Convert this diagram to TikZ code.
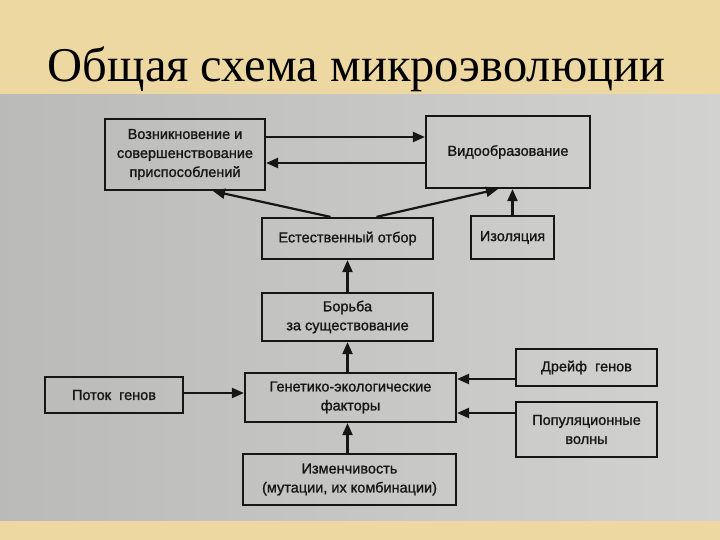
\documentclass[tikz,border=0pt]{standalone}
\usepackage{fontspec}
\setmainfont{Liberation Serif}
\newfontfamily\boxfont[FakeBold=1.2]{Liberation Sans}
\usetikzlibrary{arrows.meta,calc}
\definecolor{beige}{RGB}{236,216,160}
\definecolor{grayL}{RGB}{186,186,184}
\definecolor{grayR}{RGB}{210,210,208}
\definecolor{ink}{RGB}{22,22,22}
\tikzset{
  blk/.style={draw=ink, line width=2.2pt, rectangle, inner sep=0pt, align=center,
    font=\boxfont\fontsize{14.5}{19}\selectfont, text=ink},
  arr/.style={draw=ink, line width=2.2pt, -{Triangle[length=12pt,width=10pt]}}
}
\begin{document}
\begin{tikzpicture}[x=1pt,y=-1pt]
\useasboundingbox (0,0) rectangle (720,540);
\fill[beige] (0,0) rectangle (720,540);
\shade[left color=grayL, right color=grayR] (0,95) rectangle (720,520);
\node[anchor=base, inner sep=0pt] (title) at (356.5,82) {\fontsize{48.5}{52}\selectfont Общая схема микроэволюции};

\node[blk, minimum width=160pt, minimum height=71pt] (voz) at (185,154.5) {Возникновение и\\совершенствование\\приспособлений};
\node[blk, minimum width=164pt, minimum height=72pt] (vid) at (508,152) {Видообразование};
\node[blk, minimum width=171pt, minimum height=41pt] (otb) at (347.5,238.5) {Естественный отбор};
\node[blk, minimum width=83pt, minimum height=43pt] (izo) at (512.5,237.5) {Изоляция};
\node[blk, minimum width=171pt, minimum height=48pt] (bor) at (347.5,317) {Борьба\\за существование};
\node[blk, minimum width=211pt, minimum height=49pt] (gen) at (350.5,397.5) {Генетико-экологические\\факторы};
\node[blk, minimum width=138pt, minimum height=36pt] (pot) at (114,395) {Поток\ \ генов};
\node[blk, minimum width=213pt, minimum height=51pt] (izm) at (349.5,479.5) {Изменчивость\\(мутации, их комбинации)};
\node[blk, minimum width=141pt, minimum height=37pt] (dre) at (586.5,367.5) {Дрейф\ \ генов};
\node[blk, minimum width=141pt, minimum height=55pt] (pop) at (586.5,429.5) {Популяционные\\волны};

\draw[arr] (voz.east |- 0,137) -- (vid.west |- 0,137);
\draw[arr] (vid.west |- 0,163) -- (voz.east |- 0,163);
\draw[arr] ($(otb.north)+(-17,0)$) -- ($(voz.south)+(28,0)$);
\draw[arr] ($(otb.north)+(29,0)$) -- ($(vid.south)+(-10,0)$);
\draw[arr] (izo.north) -- (izo.north |- vid.south);
\draw[arr] (bor.north) -- (bor.north |- otb.south);
\draw[arr] (gen.north -| bor.north) -- (bor.south);
\draw[arr] (izm.north -| bor.north) -- (gen.south -| bor.north);
\draw[arr] (pot.east |- 0,393) -- (gen.west |- 0,393);
\draw[arr] (dre.west |- 0,379) -- (gen.east |- 0,379);
\draw[arr] (pop.west |- 0,413) -- (gen.east |- 0,413);
\end{tikzpicture}
\end{document}
